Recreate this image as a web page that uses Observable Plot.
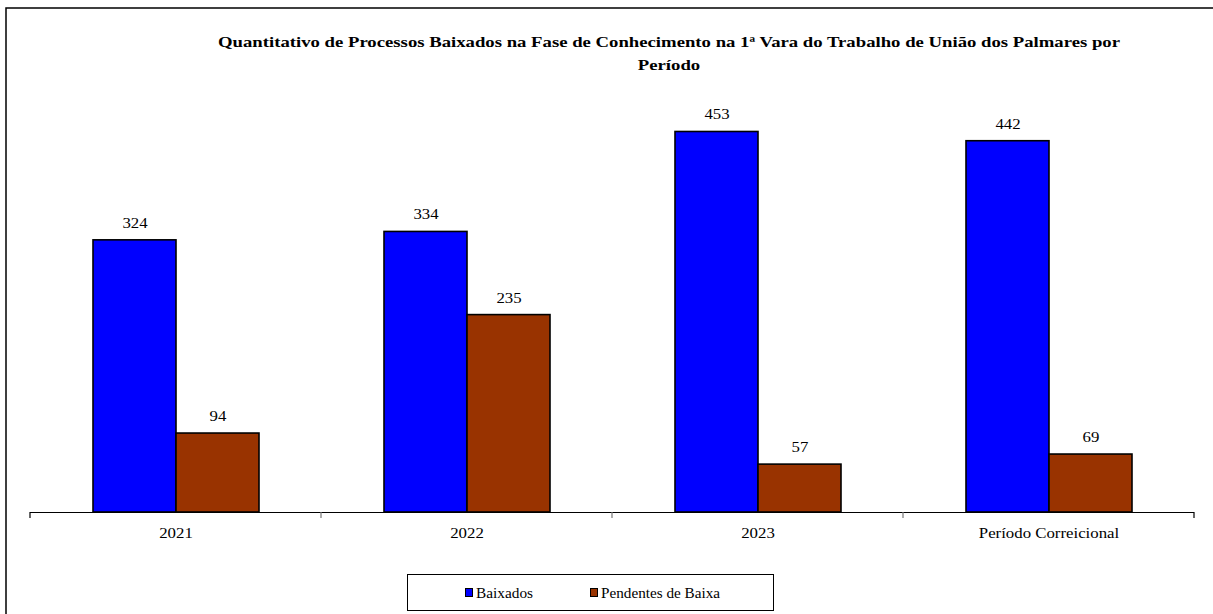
<!DOCTYPE html>
<html>
<head>
<meta charset="utf-8">
<script src="https://cdn.jsdelivr.net/npm/d3@7"></script>
<script src="https://cdn.jsdelivr.net/npm/@observablehq/plot@0.6"></script>
<style>
  html, body { margin: 0; padding: 0; background: #fff; }
  svg { display: block; }
</style>
</head>
<body>
<div id="chart"></div>
<script>
const titleLines = [
  "Quantitativo de Processos Baixados na Fase de Conhecimento na 1ª Vara do Trabalho de União dos Palmares por",
  "Período"
];
const categories = ["2021", "2022", "2023", "Período Correicional"];
const seriesNames = ["Baixados", "Pendentes de Baixa"];
const baixados = [324, 334, 453, 442];
const pendentes = [94, 235, 57, 69];
const seriesColors = ["#0000FF", "#993300"];

const rows = [];
categories.forEach((c, i) => {
  rows.push({cat: c, serie: seriesNames[0], value: baixados[i]});
  rows.push({cat: c, serie: seriesNames[1], value: pendentes[i]});
});

const W = 1213, H = 614;
const serif = "Liberation Serif, Times New Roman, DejaVu Serif, serif";

const plot = Plot.plot({
  width: W,
  height: H,
  marginLeft: 29,
  marginRight: 18,
  marginTop: 92,
  marginBottom: 102,
  style: {fontFamily: serif, fontSize: "14px", color: "#000", background: "#fff"},
  fx: {domain: categories, padding: 0, label: null},
  x: {domain: seriesNames, paddingInner: 0, paddingOuter: 0.745, axis: null},
  y: {domain: [0, 500], axis: null},
  color: {domain: seriesNames, range: seriesColors},
  marks: [
    Plot.barY(rows, {fx: "cat", x: "serie", y: "value", fill: "serie", stroke: "#000", strokeWidth: 1.6}),
    Plot.text(rows, {fx: "cat", x: "serie", y: "value", text: d => String(d.value), dy: -17, fontSize: 14, fill: "#000"}),
    Plot.ruleY([0], {stroke: "#000", strokeWidth: 1.2}),
    Plot.axisFx({tickSize: 0, tickPadding: 16, fontSize: 14, label: null, anchor: "bottom"})
  ]
});

document.getElementById("chart").appendChild(plot);

const svg = d3.select(plot);
const fx = plot.scale("fx");
const y0 = 512;

// horizontally stretched text, as in the reference
svg.selectAll("text").each(function() {
  const len = this.getComputedTextLength();
  if (len > 0) {
    this.setAttribute("textLength", (len * 1.2).toFixed(1));
    this.setAttribute("lengthAdjust", "spacingAndGlyphs");
  }
});

// category boundary ticks
const bw = fx.bandwidth;
const edges = categories.map(c => fx.apply(c)).concat([fx.apply(categories[categories.length - 1]) + bw]);
svg.append("g").selectAll("line").data(edges).join("line")
  .attr("x1", d => d).attr("x2", d => d)
  .attr("y1", y0).attr("y2", y0 + 6)
  .attr("stroke", (d, i) => (i === 0 || i === edges.length - 1) ? "#000" : "#777")
  .attr("stroke-width", 1.2);

// outer frame
svg.append("path")
  .attr("d", `M6,${H + 2}V8H${W + 2}`)
  .attr("fill", "none").attr("stroke", "#000").attr("stroke-width", 1.5);

// title
const tg = svg.append("g")
  .attr("font-family", serif).attr("font-weight", "bold").attr("font-size", 15)
  .attr("text-anchor", "middle").attr("fill", "#000");
tg.append("text").attr("x", 669).attr("y", 47).text(titleLines[0])
  .attr("textLength", 902).attr("lengthAdjust", "spacingAndGlyphs");
const t2 = tg.append("text").attr("x", 669).attr("y", 70).text(titleLines[1]);
t2.attr("textLength", (t2.node().getComputedTextLength() * 1.25).toFixed(1)).attr("lengthAdjust", "spacingAndGlyphs");

// legend
const lg = svg.append("g").attr("font-family", serif).attr("font-size", 14)
  .attr("text-anchor", "start").attr("fill", "#000");
lg.append("rect").attr("x", 407.5).attr("y", 574.5).attr("width", 366).attr("height", 36)
  .attr("fill", "#fff").attr("stroke", "#000").attr("stroke-width", 1);
const legendX = [465, 590];
const legendLen = [57, 119];
seriesNames.forEach((s, i) => {
  lg.append("rect").attr("x", legendX[i] + 0.5).attr("y", 588.5).attr("width", 7).attr("height", 8)
    .attr("fill", seriesColors[i]).attr("stroke", "#000").attr("stroke-width", 1);
  lg.append("text").attr("x", legendX[i] + 11).attr("y", 598).text(s)
    .attr("textLength", legendLen[i]).attr("lengthAdjust", "spacingAndGlyphs");
});
</script>
</body>
</html>
